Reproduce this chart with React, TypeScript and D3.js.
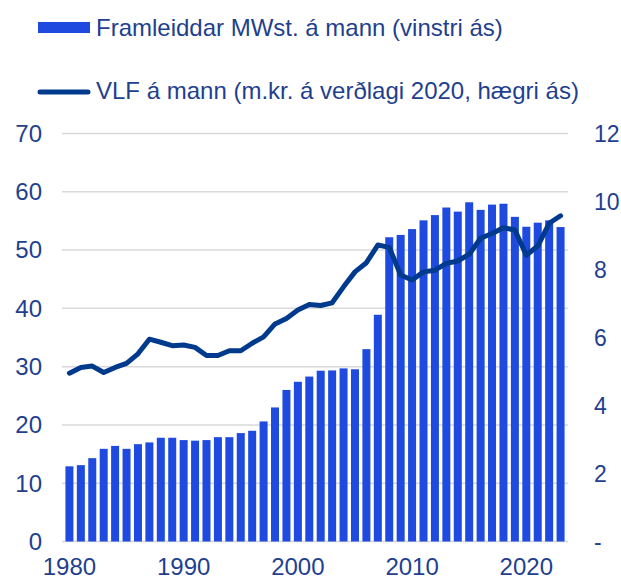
import React, { useEffect, useRef } from "react";
import * as d3 from "d3";

// Framleiddar MWst. á mann (vinstri ás) og VLF á mann (hægri ás)
const years = d3.range(1980, 2024);
const mwst = [
  12.9, 13.1, 14.3, 15.9, 16.4, 15.9, 16.7, 17.0, 17.8, 17.8,
  17.4, 17.3, 17.4, 17.9, 17.9, 18.6, 19.0, 20.6, 23.0, 26.0,
  27.4, 28.3, 29.3, 29.35, 29.7, 29.55, 33.0, 38.9, 52.2, 52.6,
  53.6, 55.1, 56.0, 57.3, 56.6, 58.2, 56.9, 57.8, 57.95, 55.7,
  54.0, 54.7, 55.1, 53.95,
];
const vlf = [
  4.95, 5.12, 5.16, 4.97, 5.12, 5.24, 5.52, 5.95, 5.86, 5.76,
  5.78, 5.71, 5.47, 5.47, 5.61, 5.61, 5.83, 6.02, 6.40, 6.56,
  6.81, 6.97, 6.94, 7.02, 7.49, 7.93, 8.20, 8.72, 8.65, 7.84,
  7.69, 7.93, 7.98, 8.18, 8.25, 8.45, 8.92, 9.06, 9.23, 9.16,
  8.42, 8.69, 9.36, 9.58,
];
const leftTicks = [0, 10, 20, 30, 40, 50, 60, 70];
const rightTicks = [0, 2, 4, 6, 8, 10, 12];
const xTickYears = [1980, 1990, 2000, 2010, 2020];
const legendLabels = [
  "Framleiddar MWst. á mann (vinstri ás)",
  "VLF á mann (m.kr. á verðlagi 2020, hægri ás)",
];

export default function App() {
  const ref = useRef<SVGSVGElement>(null);

  useEffect(() => {
    const svg = d3.select(ref.current);
    svg.selectAll("*").remove();

    const width = 621;
    const height = 580;
    const margin = { top: 133.5, right: 53, bottom: 38.5, left: 62 };
    const innerW = width - margin.left - margin.right;
    const innerH = height - margin.top - margin.bottom;

    const textColor = "#1f3f8f";
    const barColor = "#1f4ae0";
    const lineColor = "#003a8c";
    const font = "'Liberation Sans', Arial, sans-serif";

    const x = d3.scaleBand<number>().domain(years).range([0, innerW]).padding(0.3);
    const yL = d3.scaleLinear().domain([0, 70]).range([innerH, 0]);
    const yR = d3.scaleLinear().domain([0, 12]).range([innerH, 0]);

    const g = svg.append("g").attr("transform", `translate(${margin.left},${margin.top})`);

    // gridlines
    g.append("g")
      .selectAll("line")
      .data(leftTicks)
      .join("line")
      .attr("x1", 0)
      .attr("x2", innerW)
      .attr("y1", (d) => yL(d))
      .attr("y2", (d) => yL(d))
      .attr("stroke", "#d9d9d9")
      .attr("stroke-width", 1.5);

    // bars
    g.append("g")
      .selectAll("rect")
      .data(years)
      .join("rect")
      .attr("x", (d) => x(d)!)
      .attr("width", x.bandwidth())
      .attr("y", (d, i) => yL(mwst[i]))
      .attr("height", (d, i) => innerH - yL(mwst[i]))
      .attr("fill", barColor);

    // line
    const line = d3
      .line<number>()
      .x((d, i) => x(years[i])! + x.bandwidth() / 2)
      .y((d) => yR(d));
    g.append("path")
      .datum(vlf)
      .attr("d", line)
      .attr("fill", "none")
      .attr("stroke", lineColor)
      .attr("stroke-width", 5)
      .attr("stroke-linejoin", "round")
      .attr("stroke-linecap", "round");

    // left axis labels
    g.append("g")
      .selectAll("text")
      .data(leftTicks)
      .join("text")
      .attr("x", -20)
      .attr("y", (d) => yL(d))
      .attr("dy", "0.35em")
      .attr("text-anchor", "end")
      .attr("font-family", font)
      .attr("font-size", 24)
      .attr("fill", textColor)
      .text((d) => d);

    // right axis labels
    g.append("g")
      .selectAll("text")
      .data(rightTicks)
      .join("text")
      .attr("x", innerW + 26)
      .attr("y", (d) => yR(d))
      .attr("dy", "0.35em")
      .attr("text-anchor", "start")
      .attr("font-family", font)
      .attr("font-size", 23)
      .attr("fill", textColor)
      .text((d) => (d === 0 ? "-" : d));

    // x axis labels
    g.append("g")
      .selectAll("text")
      .data(xTickYears)
      .join("text")
      .attr("x", (d) => x(d)! + x.bandwidth() / 2)
      .attr("y", innerH + 33)
      .attr("text-anchor", "middle")
      .attr("font-family", font)
      .attr("font-size", 24)
      .attr("fill", textColor)
      .text((d) => d);

    // legend
    const lg = svg.append("g");
    lg.append("rect").attr("x", 38).attr("y", 22).attr("width", 52).attr("height", 11).attr("fill", barColor);
    lg.append("line")
      .attr("x1", 40)
      .attr("x2", 88)
      .attr("y1", 92)
      .attr("y2", 92)
      .attr("stroke", lineColor)
      .attr("stroke-width", 5)
      .attr("stroke-linecap", "round");
    lg.selectAll("text")
      .data(legendLabels)
      .join("text")
      .attr("x", 96)
      .attr("y", (d, i) => (i === 0 ? 36 : 99))
      .attr("font-family", font)
      .attr("font-size", 24)
      .attr("fill", textColor)
      .text((d) => d);
  }, []);

  return (
    <svg
      ref={ref}
      width={621}
      height={580}
      style={{ position: "absolute", left: 0, top: 0, background: "#fff" }}
    />
  );
}
